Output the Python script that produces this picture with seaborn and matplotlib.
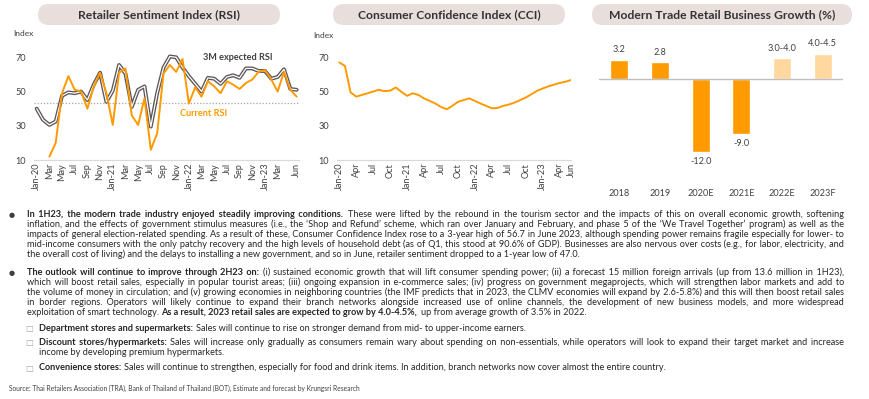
import numpy as np
import pandas as pd
import seaborn as sns
import matplotlib.pyplot as plt
from matplotlib.patches import FancyBboxPatch
from matplotlib.transforms import IdentityTransform
from matplotlib.font_manager import FontProperties

W, H = 870, 399
FONT = "Lato"
TEXT = "#262626"
ORANGE = "#FF9900"

# ---- data ----
months = pd.date_range("2020-01-01", "2023-06-01", freq="MS")
month_labels = [d.strftime("%b-%y") if d.month == 1 else d.strftime("%b") for d in months]

rsi_current = [np.nan, np.nan, 12, 20, 49, 59, 51, 50, 40, 53, 61, 49,
               30.5, 61, 63.5, 36, 30.5, 46, 16, 25.5, 60.5, 65.5, 61.5, 69,
               43, 52.5, 47, 56, 53, 49, 56, 54, 51.5, 55, 57, 61.5,
               62.5, 57, 50, 61.5, 51, 47]
rsi_expected = [40, 33.5, 30.5, 32.5, 47.5, 49.5, 49, 50, 45, 54, 61, 44,
                50.5, 65.5, 60.5, 41, 51, 53, 29.5, 49, 64, 70.5, 70, 64,
                59, 54.5, 50, 58, 57.5, 54.5, 58.5, 59.5, 58, 63.5, 63.5, 62,
                62, 57.5, 58.5, 63, 51.5, 51]
rsi_threshold = 43.5

cci = [67, 65, 49.5, 47, 48, 49, 50, 51, 50.2, 50.5, 52.4, 49.8,
       47.5, 49, 48, 46, 44.5, 43, 41, 39.6, 41.6, 44, 45, 46,
       44.5, 43, 41.6, 40.2, 40.4, 41.6, 42.4, 43.5, 45, 46.5, 48.4, 50.4,
       51.8, 53, 54, 55, 55.7, 56.7]

years = ["2018", "2019", "2020E", "2021E", "2022E", "2023F"]
growth_low = [3.2, 2.8, -12.0, -9.0, 3.0, 4.0]
growth_high = [3.2, 2.8, -12.0, -9.0, 4.0, 4.5]
bar_colors = ["#FF9A00"] * 4 + ["#FFD8A0"] * 2

bullet_1 = [
    "**In 1H23, the modern trade industry enjoyed steadily improving conditions.** These were lifted by the rebound in the tourism sector and the impacts of this on overall economic growth, softening",
    "inflation, and the effects of government stimulus measures (i.e., the \u2018Shop and Refund\u2019 scheme, which ran over January and February, and phase 5 of the \u2018We Travel Together\u2019 program) as well as the",
    "impacts of general election-related spending. As a result of these, Consumer Confidence Index rose to a 3-year high of 56.7 in June 2023, although spending power remains fragile especially for lower- to",
    "mid-income consumers with the only patchy recovery and the high levels of household debt (as of Q1, this stood at 90.6% of GDP). Businesses are also nervous over costs (e.g., for labor, electricity, and",
    "the overall cost of living) and the delays to installing a new government, and so in June, retailer sentiment dropped to a 1-year low of 47.0.",
]
bullet_2 = [
    "**The outlook will continue to improve through 2H23 on:** (i) sustained economic growth that will lift consumer spending power; (ii) a forecast 15 million foreign arrivals (up from 13.6 million in 1H23),",
    "which will boost retail sales, especially in popular tourist areas; (iii) ongoing expansion in e-commerce sales; (iv) progress on government megaprojects, which will strengthen labor markets and add to",
    "the volume of money in circulation; and (v) growing economies in neighboring countries (the IMF predicts that in 2023, the CLMV economies will expand by 2.6-5.8%) and this will then boost retail sales",
    "in border regions. Operators will likely continue to expand their branch networks alongside increased use of online channels, the development of new business models, and more widespread",
    "exploitation of smart technology. **As a result, 2023 retail sales are expected to grow by 4.0-4.5%,** up from average growth of 3.5% in 2022.",
]
sub_1 = ["**Department stores and supermarkets:** Sales will continue to rise on stronger demand from mid- to upper-income earners."]
sub_2 = [
    "**Discount stores/hypermarkets:** Sales will increase only gradually as consumers remain wary about spending on non-essentials, while operators will look to expand their target market and increase",
    "income by developing premium hypermarkets.",
]
sub_3 = ["**Convenience stores:** Sales will continue to strengthen, especially for food and drink items. In addition, branch networks now cover almost the entire country."]
source = "Source: Thai Retailers Association (TRA), Bank of Thailand of Thailand (BOT), Estimate and forecast by Krungsri Research"

# ---- figure ----
sns.set_theme(style="white")
plt.rcParams["font.family"] = [FONT, "DejaVu Sans"]
fig = plt.figure(figsize=(W / 100, H / 100), dpi=100)


def px_axes(x0, y0, x1, y1):
    return fig.add_axes([x0 / W, 1 - y1 / H, (x1 - x0) / W, (y1 - y0) / H])


def title_box(x0, x1, text):
    box = FancyBboxPatch((x0, H - 25), x1 - x0, 21, boxstyle="round,pad=0,rounding_size=10.5",
                         transform=IdentityTransform(), fc="#E8DFDD", ec="none")
    fig.add_artist(box)
    fig.text((x0 + x1) / 2 / W, 1 - 14.5 / H, text, ha="center", va="center",
             fontsize=8.7, weight="bold", color="#333333")


def style_line_axes(ax, ticks, xlim):
    ax.set_xlim(*xlim)
    ax.set_ylim(10, 78)
    ax.set_yticks([10, 30, 50, 70])
    ax.set_xticks(ticks)
    ax.set_xticklabels([month_labels[i] for i in ticks], rotation=90)
    ax.tick_params(axis="both", length=0, labelsize=6.6, labelcolor="#404040")
    ax.tick_params(axis="x", pad=2)
    ax.tick_params(axis="y", pad=5.5)
    for s in ["top", "right", "left"]:
        ax.spines[s].set_visible(False)
    ax.spines["bottom"].set_color("#D9D9D9")
    ax.spines["bottom"].set_linewidth(0.8)
    ax.set_xlabel("")
    ax.set_ylabel("")
    ax.grid(False)
    ax.patch.set_alpha(0)


idx = np.arange(len(months))

# RSI
ax1 = px_axes(33.5, 43.6, 299.2, 160)
ax1.axhline(rsi_threshold, color="#A6A6A6", ls=(0, (1, 1.5)), lw=0.9)
sns.lineplot(x=idx, y=rsi_expected, ax=ax1, color="#5E5656", lw=2.8)
sns.lineplot(x=idx, y=rsi_expected, ax=ax1, color="white", lw=0.9)
sns.lineplot(x=idx, y=rsi_current, ax=ax1, color=ORANGE, lw=1.4)
style_line_axes(ax1, list(range(0, 39, 2)) + [41], (-0.5, 41.4))
ax1.text(26.2, 70, "3M expected RSI", fontsize=6.6, weight="bold", color="#404040", va="center")
ax1.text(22.6, 36.9, "Current RSI", fontsize=6.6, weight="bold", color=ORANGE, va="center")
fig.text(13 / W, 1 - 33 / H, "Index", fontsize=6, color="#404040", va="center")
title_box(38, 280, "Retailer Sentiment Index (RSI)")

# CCI
ax2 = px_axes(336.8, 43.6, 571.5, 160)
sns.lineplot(x=idx, y=cci, ax=ax2, color=ORANGE, lw=1.4)
style_line_axes(ax2, list(range(0, 40, 3)) + [41], (-0.44, 41.1))
fig.text(313 / W, 1 - 35 / H, "Index", fontsize=6, color="#404040", va="center")
title_box(333, 565, "Consumer Confidence Index (CCI)")

# Growth bars
growth_mid = [(lo + hi) / 2 for lo, hi in zip(growth_low, growth_high)]
growth_labels = [f"{lo:.1f}" if lo == hi else f"{lo:.1f}-{hi:.1f}" for lo, hi in zip(growth_low, growth_high)]
ax3 = px_axes(599, 40, 843, 186)
sns.barplot(x=years, y=growth_mid, hue=years, palette=bar_colors, width=0.45,
            legend=False, ax=ax3, saturation=1)
for cont, lab in zip(ax3.containers, growth_labels):
    ax3.bar_label(cont, labels=[lab], padding=4, fontsize=6.6, color="#404040")
ax3.axhline(0, color="#BFBFBF", lw=1)
ax3.set_xlim(-0.5, 5.5)
ax3.set_ylim(-17.7, 6.52)
ax3.set_yticks([])
ax3.tick_params(axis="x", length=0, labelsize=6.6, labelcolor="#404040", pad=2)
for s in ax3.spines.values():
    s.set_visible(False)
ax3.set_xlabel("")
ax3.set_ylabel("")
ax3.patch.set_alpha(0)
title_box(592, 852, "Modern Trade Retail Business Growth (%)")

# ---- commentary text (justified, one Text per bold/regular run) ----
renderer = fig.canvas.get_renderer()
HAIR = "\u200a"


def measure(s, bold, fs):
    fp = FontProperties(family=[FONT, "DejaVu Sans"], size=fs, weight="bold" if bold else "normal")
    return renderer.get_text_width_height_descent(s, fp, ismath=False)[0]


def tokens(line):
    out = []
    for k, part in enumerate(line.split("**")):
        for word in part.split():
            out.append((word, k % 2 == 1))
    return out


def natural_width(line, fs):
    toks = tokens(line)
    space = measure("a a", False, fs) - measure("aa", False, fs)
    return sum(measure(w, b, fs) for w, b in toks) + space * (len(toks) - 1)


def draw_line(line, x0, x1, y, fs, justify):
    toks = tokens(line)
    widths = [measure(w, b, fs) for w, b in toks]
    space = measure("a a", False, fs) - measure("aa", False, fs)
    hair = (measure("a" + HAIR * 10 + "a", False, fs) - measure("aa", False, fs)) / 10
    gap = (x1 - x0 - sum(widths)) / (len(toks) - 1) if justify else space
    runs = []
    x = x0
    carry = 0.0
    for (w, b), wd in zip(toks, widths):
        if not runs or runs[-1][0] != b:
            runs.append([b, w, x])
            carry = 0.0
        else:
            extra = gap - space + carry
            k = max(0, int(round(extra / hair))) if hair > 0 else 0
            carry = extra - k * hair
            runs[-1][1] += " " + HAIR * k + w
        x += wd + gap
    for b, s, xs in runs:
        fig.text(xs / W, 1 - (y + 2.4) / H, s, fontsize=fs, weight="bold" if b else "normal",
                 ha="left", va="baseline", color=TEXT)


RIGHT = 844
full_lines = [(l, 27) for l in bullet_1[:-1] + bullet_2[:-1]] + [(sub_2[0], 39)]
fs = min(10 * (RIGHT - x0) / natural_width(l, 10) for l, x0 in full_lines) * 0.995


def paragraph(lines, x0, y0, step=10):
    for i, line in enumerate(lines):
        draw_line(line, x0, RIGHT, y0 + i * step, fs, i < len(lines) - 1)


fig.text(12 / W, 1 - 215 / H, "\u25cf", family="DejaVu Sans", fontsize=5, color="#404040", va="center", ha="center")
paragraph(bullet_1, 27, 215)
fig.text(12 / W, 1 - 273 / H, "\u25cf", family="DejaVu Sans", fontsize=5, color="#404040", va="center", ha="center")
paragraph(bullet_2, 27, 273)
for lines, y in [(sub_1, 329), (sub_2, 343), (sub_3, 368)]:
    fig.text(29 / W, 1 - y / H, "\u25a1", family="DejaVu Sans", fontsize=6, color="#A6A6A6", va="center", ha="center")
    paragraph(lines, 39, y)

fig.text(9 / W, 1 - 388 / H, source, fontsize=4.8, color="#404040", va="center")

fig.savefig("out.png", dpi=100)
